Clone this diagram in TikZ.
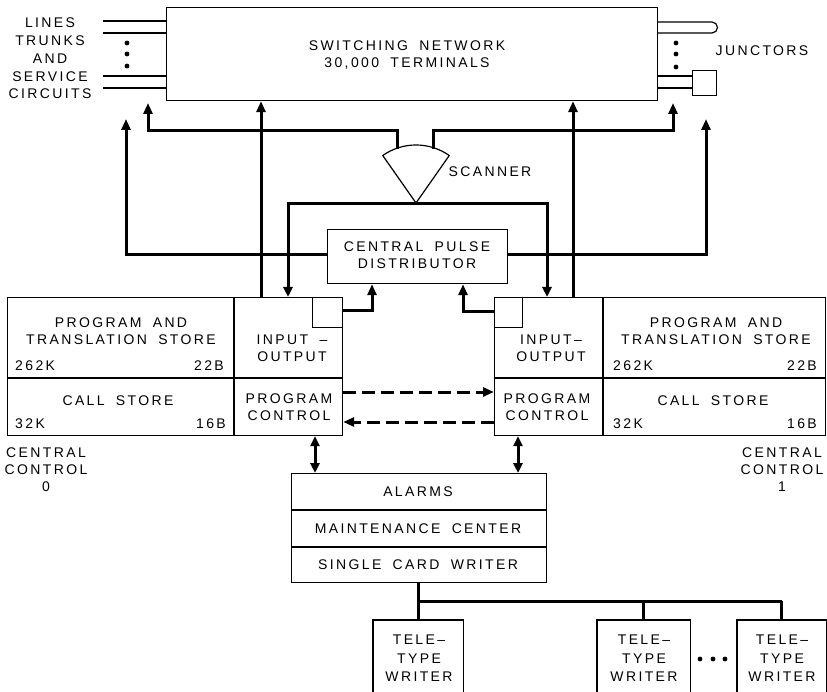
\documentclass[tikz,border=0pt]{standalone}
\usepackage{fontspec}
\setmainfont{Liberation Sans}[LetterSpace=17,WordSpace=1.8]
\usetikzlibrary{arrows.meta}
\begin{document}
\begin{tikzpicture}[x=1pt,y=-1pt,
  box/.style={draw,line width=1.2pt,inner sep=0pt,anchor=north west},
  area/.style={inner sep=0pt,anchor=north west},
  txt/.style={inner sep=0pt,font=\fontsize{14}{17}\selectfont,align=center},
  ln/.style={line width=1.2pt},
  conn/.style={line width=3pt},
  tip/.style={-{Triangle[length=11pt,width=9pt]}},
  tips/.style={{Triangle[length=10pt,width=9pt]}-{Triangle[length=10pt,width=9pt]}},
  dsh/.style={line width=3pt,dash pattern=on 13pt off 6pt},
  dot/.style={circle,fill,inner sep=0pt,minimum size=4.8pt},
]
\useasboundingbox (0,0) rectangle (827,692);

% ---------- boxes ----------
\node[box,minimum width=491pt,minimum height=93pt] (sn) at (166,7) {};
\node[box,minimum width=180pt,minimum height=54pt] (cpd) at (327,229) {};
\node[box,minimum width=335pt,minimum height=138pt] (cc0) at (7,297) {};
\node[box,minimum width=331pt,minimum height=138pt] (cc1) at (494,297) {};
\node[box,minimum width=30pt,minimum height=30pt] (sq0) at (312,297) {};
\node[box,minimum width=28pt,minimum height=30pt] (sq1) at (494,297) {};
\node[box,minimum width=255pt,minimum height=109pt] (alm) at (291,473) {};
\node[box,minimum width=24pt,minimum height=25pt] (jsq) at (692,70) {};
\node[area,minimum width=90pt,minimum height=72pt] (tt1) at (373,620) {};
\node[area,minimum width=93pt,minimum height=72pt] (tt2) at (597,620) {};
\node[area,minimum width=89pt,minimum height=72pt] (tt3) at (737,620) {};
\foreach \t in {tt1,tt2,tt3}
  \draw[ln] (\t.south west) -- (\t.north west) -- (\t.north east) -- (\t.south east);

% dividers
\coordinate (d0) at (234,378);
\coordinate (d1) at (603,378);
\draw[ln] (cc0.north -| d0) -- (cc0.south -| d0);
\draw[ln] (cc0.west |- d0) -- (cc0.east |- d0);
\draw[ln] (cc1.north -| d1) -- (cc1.south -| d1);
\draw[ln] (cc1.west |- d1) -- (cc1.east |- d1);
\coordinate (a1) at (0,510);
\coordinate (a2) at (0,547);
\draw[ln] (alm.west |- a1) -- (alm.east |- a1);
\draw[ln] (alm.west |- a2) -- (alm.east |- a2);

% ---------- lines / trunks ----------
\foreach \y in {21,33,76,88} {
  \coordinate (lf\y) at (103,\y);
  \draw[ln] (lf\y) -- (lf\y -| sn.west);
}
\foreach \y [count=\i] in {43,54,66} \node[dot] (ld\i) at (127,\y) {};
\foreach \y [count=\i] in {43,54,67} \node[dot] (rd\i) at (676,\y) {};

% junctors
\coordinate (j1) at (712,22);
\coordinate (j2) at (712,33);
\draw[ln] (j1 -| sn.east) -- (j1) arc[start angle=-90,end angle=90,radius=5.5] -- (j2 -| sn.east);
\coordinate (j3) at (0,76);
\coordinate (j4) at (0,88);
\draw[ln] (j3 -| sn.east) -- (j3 -| jsq.west);
\draw[ln] (j4 -| sn.east) -- (j4 -| jsq.west);

% ---------- scanner ----------
\coordinate (scv) at (416,203);
\draw[ln] (scv) -- ++(-125:58) arc[start angle=-125,end angle=-55,radius=58] -- cycle;
\coordinate (sl) at (397,149);
\coordinate (sr) at (433,149);

% ---------- connectors ----------
\coordinate (h1) at (0,131);
\coordinate (x148) at (148,103);
\coordinate (x673) at (673,103);
\draw[conn,tip] (sl) -- (sl |- h1) -- (x148 |- h1) -- (x148);
\draw[conn,tip] (sr) -- (sr |- h1) -- (x673 |- h1) -- (x673);

\coordinate (h2) at (0,255);
\coordinate (x126) at (126,119);
\coordinate (x706) at (706,119);
\draw[conn,tip] (cpd.west |- h2) -- (x126 |- h2) -- (x126);
\draw[conn,tip] (cpd.east |- h2) -- (x706 |- h2) -- (x706);

\coordinate (x261) at (261,0);
\coordinate (x573) at (573,0);
\draw[conn,tip] (cc0.north -| x261) -- (sn.south -| x261);
\draw[conn,tip] (cc1.north -| x573) -- (sn.south -| x573);

\coordinate (x288) at (288,204);
\coordinate (x547) at (547,204);
\draw[conn,tips] (cc0.north -| x288) -- (x288) -- (x547) -- (cc1.north -| x547);
\draw[conn] (x288) -- (x547);

\coordinate (s0) at (372,311);
\coordinate (s1) at (463,312);
\draw[conn,tip] (sq0.east |- s0) -- (s0) -- (cpd.south -| s0);
\draw[conn,tip] (sq1.west |- s1) -- (s1) -- (cpd.south -| s1);

\coordinate (k1) at (0,392);
\coordinate (k2) at (0,422);
\draw[dsh,-{Triangle[length=11pt,width=9pt]}] (cc0.east |- k1) -- (cc1.west |- k1);
\draw[dsh,-{Triangle[length=11pt,width=9pt]}] (cc1.west |- k2) -- (cc0.east |- k2);

\coordinate (x315) at (315,0);
\coordinate (x518) at (518,0);
\draw[conn,tips] (cc0.south -| x315) -- (alm.north -| x315);
\draw[conn,tips] (cc1.south -| x518) -- (alm.north -| x518);

\coordinate (bus) at (418,601);
\draw[conn] (alm.south -| bus) -- (tt1.north -| bus);
\draw[conn] (bus) -- (bus -| tt3.north);
\draw[conn] (bus -| tt2.north) -- (tt2.north);
\draw[conn] (bus -| tt3.north) -- (tt3.north);

\foreach \x [count=\i] in {700,713,725} \node[dot] (td\i) at (\x,659) {};

% ---------- texts ----------
\node[txt] (snt) at (407,55.5) {SWITCHING NETWORK\\30,000 TERMINALS};
\node[txt,font=\fontsize{14}{17.7}\selectfont] (llab) at (50,58.5) {LINES\\TRUNKS\\AND\\SERVICE\\CIRCUITS};
\node[txt] (jlab) at (762,51) {JUNCTORS};
\node[txt] (slab) at (490,172) {SCANNER};
\node[txt] (cpdt) at (417,255.5) {CENTRAL PULSE\\DISTRIBUTOR};

\node[txt] (p0) at (121,331) {PROGRAM AND\\TRANSLATION STORE};
\node[txt,anchor=west] (k0a) at (15,366) {262K};
\node[txt,anchor=east] (k0b) at (224,366) {22B};
\node[txt] (io0) at (292,348) {INPUT –\\OUTPUT};
\node[txt] (cs0) at (118,401) {CALL STORE};
\node[txt,anchor=west] (k0c) at (15,424) {32K};
\node[txt,anchor=east] (k0d) at (226,424) {16B};
\node[txt] (pc0) at (289,407) {PROGRAM\\CONTROL};

\node[txt] (io1) at (551,348) {INPUT–\\OUTPUT};
\node[txt] (p1) at (716,331) {PROGRAM AND\\TRANSLATION STORE};
\node[txt,anchor=west] (k1a) at (613,366) {262K};
\node[txt,anchor=east] (k1b) at (817,366) {22B};
\node[txt] (pc1) at (547,407) {PROGRAM\\CONTROL};
\node[txt] (cs1) at (713,401) {CALL STORE};
\node[txt,anchor=west] (k1c) at (613,424) {32K};
\node[txt,anchor=east] (k1d) at (817,424) {16B};

\node[txt] (cl0) at (46,469.5) {CENTRAL\\CONTROL\\0};
\node[txt] (cl1) at (782,469.5) {CENTRAL\\CONTROL\\1};

\node[txt] (al1) at (418,492) {ALARMS};
\node[txt] (al2) at (418,529) {MAINTENANCE CENTER};
\node[txt] (al3) at (418,565) {SINGLE CARD WRITER};

\node[txt,font=\fontsize{14}{18.5}\selectfont] (tw1) at (419,658.5) {TELE–\\TYPE\\WRITER};
\node[txt,font=\fontsize{14}{18.5}\selectfont] (tw2) at (644,658.5) {TELE–\\TYPE\\WRITER};
\node[txt,font=\fontsize{14}{18.5}\selectfont] (tw3) at (782,658.5) {TELE–\\TYPE\\WRITER};
\end{tikzpicture}
\end{document}
